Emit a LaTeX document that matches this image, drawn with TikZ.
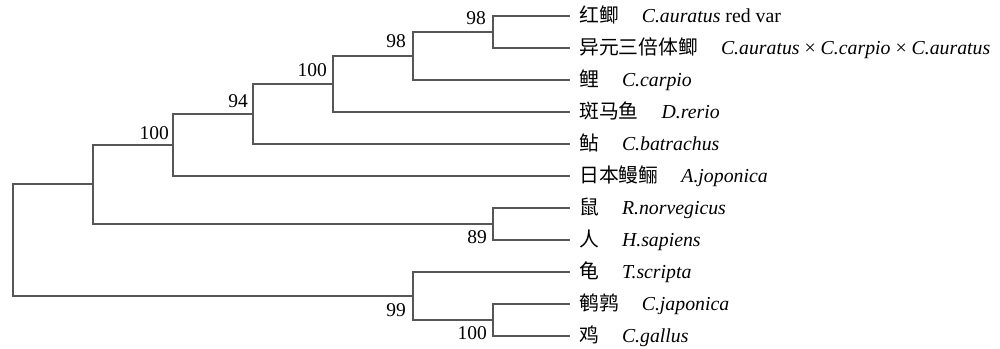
\documentclass[tikz,border=0pt]{standalone}
\usepackage{fontspec}
\setmainfont{Liberation Serif}
\newfontfamily\cjk{Noto Sans CJK SC}
\definecolor{brc}{HTML}{575757}
\begin{document}
\begin{tikzpicture}[x=1pt,y=-1pt,
  br/.style={draw=brc,line width=2pt},
  leaf/.style={anchor=west,inner xsep=9pt,inner ysep=0pt,text height=17.5pt,text depth=5pt,font=\fontsize{19.8}{20}\selectfont},
  bs/.style={anchor=base east,inner sep=0pt,font=\fontsize{19.5}{20}\selectfont}]
\useasboundingbox (0,0) rectangle (1000,348);
\newcommand{\gp}{\hspace{23pt}}
% leaves
\node[leaf] (l1) at (570,16) {{\cjk 红鲫}\gp\textit{C.auratus} red var};
\node[leaf] (l2) at (570,48) {{\cjk 异元三倍体鲫}\gp\textit{C.auratus} × \textit{C.carpio} × \textit{C.auratus}};
\node[leaf] (l3) at (570,80) {{\cjk 鲤}\gp\textit{C.carpio}};
\node[leaf] (l4) at (570,112) {{\cjk 斑马鱼}\gp\textit{D.rerio}};
\node[leaf] (l5) at (570,144) {{\cjk 鲇}\gp\textit{C.batrachus}};
\node[leaf] (l6) at (570,176) {{\cjk 日本鳗鲡}\gp\textit{A.joponica}};
\node[leaf] (l7) at (570,208) {{\cjk 鼠}\gp\textit{R.norvegicus}};
\node[leaf] (l8) at (570,240) {{\cjk 人}\gp\textit{H.sapiens}};
\node[leaf] (l9) at (570,272) {{\cjk 龟}\gp\textit{T.scripta}};
\node[leaf] (l10) at (570,304) {{\cjk 鹌鹑}\gp\textit{C.japonica}};
\node[leaf] (l11) at (570,336) {{\cjk 鸡}\gp\textit{C.gallus}};
% internal nodes
\coordinate (A) at (493,32);
\coordinate (B) at (413,56);
\coordinate (C) at (333,84);
\coordinate (D) at (253,114);
\coordinate (E) at (173,145);
\coordinate (G) at (493,224);
\coordinate (F) at (93,184);
\coordinate (J) at (493,320);
\coordinate (I) at (413,296);
\coordinate (H) at (13,240);
% branches
\draw[br] (l1.west) -| (A) |- (l2.west);
\draw[br] (A) -| (B) |- (l3.west);
\draw[br] (B) -| (C) |- (l4.west);
\draw[br] (C) -| (D) |- (l5.west);
\draw[br] (D) -| (E) |- (l6.west);
\draw[br] (l7.west) -| (G) |- (l8.west);
\draw[br] (E) -| (F) |- (G);
\draw[br] (l10.west) -| (J) |- (l11.west);
\draw[br] (l9.west) -| (I) |- (J);
\draw[br] (F) -| (H) |- (I);
% bootstrap values
\node[bs] (bA) at (486,24) {98};
\node[bs] (bB) at (406,47) {98};
\node[bs] (bC) at (327,76) {100};
\node[bs] (bD) at (248,107) {94};
\node[bs] (bE) at (169,139) {100};
\node[bs] (bG) at (487,243) {89};
\node[bs] (bI) at (406,316) {99};
\node[bs] (bJ) at (487,339) {100};
\end{tikzpicture}
\end{document}
